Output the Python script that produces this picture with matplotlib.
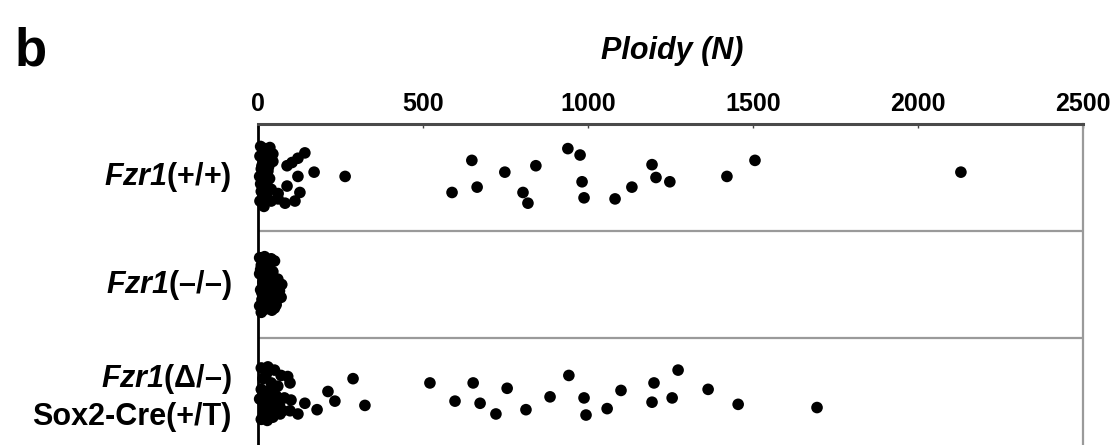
import numpy as np
import matplotlib
matplotlib.use("Agg")
import matplotlib.pyplot as plt

plt.rcParams["font.family"] = ["Liberation Sans", "DejaVu Sans"]
plt.rcParams["mathtext.fontset"] = "custom"
plt.rcParams["mathtext.rm"] = "Liberation Sans:bold"
plt.rcParams["mathtext.bf"] = "Liberation Sans:italic:bold"

# group labels (top to bottom)
groups = [
    r"$\mathbf{Fzr1}$(+/+)",
    r"$\mathbf{Fzr1}$(–/–)",
    r"$\mathbf{Fzr1}$(Δ/–)" + "\nSox2-Cre(+/T)",
]

# ploidy values, with vertical jitter (fraction of row)
wt_vals = [264, 170, 588, 648, 664, 748, 803, 818, 842, 939, 976, 982, 988,
           1082, 1133, 1194, 1206, 1248, 1421, 1506, 2130,
           142, 121, 88, 103, 127, 112, 82, 61, 36, 45, 121, 88, 61,
           8, 20, 6, 25, 12, 30, 5, 18, 28, 10, 22, 6, 15, 30, 35, 40, 45,
           14, 32, 8, 26, 18, 40, 10]
wt_jit = [-0.01, -0.05, 0.14, -0.16, 0.09, -0.05, 0.14, 0.24, -0.11, -0.27, -0.21, 0.04, 0.19,
          0.20, 0.09, -0.12, 0.00, 0.04, -0.01, -0.16, -0.05,
          -0.23, -0.18, -0.11, -0.14, 0.14, 0.22, 0.24, 0.15, -0.28, -0.22, -0.01, 0.08, 0.20,
          -0.29, -0.27, -0.20, -0.15, -0.11, -0.06, -0.01, 0.03, 0.08, 0.13, 0.17, 0.22, 0.25,
          -0.24, 0.01, 0.11, -0.15,
          -0.18, -0.10, 0.06, 0.18, 0.27, 0.22, -0.08]

ko_vals = [5, 20, 40, 50, 10, 30, 45, 5, 25, 15, 50, 35, 60, 72, 65, 8, 28, 45,
           70, 12, 38, 55, 5, 22, 42, 10, 30, 48, 18, 58,
           15, 35, 25, 8, 40, 20, 32, 12, 50, 28]
ko_jit = [-0.25, -0.26, -0.24, -0.22, -0.18, -0.15, -0.12, -0.10, -0.06, -0.02, -0.04, 0.02,
          -0.05, 0.00, 0.06, 0.05, 0.09, 0.10, 0.12, 0.14, 0.17, 0.19, 0.20, 0.23, 0.24, 0.26,
          0.20, 0.04, 0.12, 0.14,
          -0.20, -0.19, -0.10, -0.14, -0.08, 0.01, 0.06, 0.08, 0.22, 0.15]

cko_vals = [288, 324, 212, 233, 179, 142, 121, 97, 97, 67, 521, 597, 652, 673, 755, 721,
            812, 885, 942, 988, 994, 1058, 1100, 1200, 1273, 1194, 1255, 1364, 1455, 1694,
            10, 30, 50, 70, 90, 15, 40, 60, 10, 30, 55, 80, 15, 40, 65, 20, 45, 10, 75, 100,
            25, 5, 35, 20, 50, 28]
cko_jit = [-0.12, 0.13, 0.00, 0.09, 0.17, 0.11, 0.21, 0.18, -0.08, 0.21, -0.08, 0.09, -0.08,
           0.11, -0.03, 0.21, 0.17, 0.05, -0.15, 0.06, 0.22, 0.16, -0.01, -0.08, -0.20, 0.10,
           0.06, -0.02, 0.12, 0.15,
           -0.22, -0.23, -0.20, -0.15, -0.14, -0.12, -0.08, -0.05, -0.02, 0.03, 0.04, 0.06,
           0.10, 0.12, 0.13, 0.20, 0.24, 0.26, 0.18, 0.08,
           -0.16, 0.07, -0.01, 0.16, 0.19, 0.27]

series = [(wt_vals, wt_jit), (ko_vals, ko_jit), (cko_vals, cko_jit)]
xticks = [0, 500, 1000, 1500, 2000, 2500]

fig = plt.figure(figsize=(11.14, 4.45), dpi=100)
ax = fig.add_axes([258 / 1114, 0.0, (1083 - 258) / 1114, 321 / 445])

for i, (vals, jit) in enumerate(series):
    ax.scatter(vals, i + np.array(jit), s=70, color="black", edgecolors="none",
               zorder=3, clip_on=False)

for y in [0.5, 1.5]:
    ax.axhline(y, color="#9a9a9a", lw=1.6, zorder=1)

ax.set_xlim(0, 2500)
ax.set_ylim(2.5, -0.5)
ax.xaxis.tick_top()
ax.set_xticks(xticks)
ax.set_xticklabels([str(t) for t in xticks], weight="bold", size=18)
ax.tick_params(axis="x", direction="in", length=3, width=1, pad=6, color="#444444")
ax.set_yticks([])

ax.spines["top"].set_color("#4a4a4a")
ax.spines["top"].set_linewidth(2.2)
ax.spines["left"].set_color("black")
ax.spines["left"].set_linewidth(2)
ax.spines["right"].set_color("#9a9a9a")
ax.spines["right"].set_linewidth(1.6)
ax.spines["bottom"].set_visible(False)

for i, lab in enumerate(groups):
    ax.text(-0.032, i + (0.05 if i == 2 else 0), lab, transform=ax.get_yaxis_transform(),
            ha="right", va="center", size=22, weight="bold", multialignment="right",
            linespacing=1.25)

fig.text(672 / 1114, 1 - 59 / 445, "Ploidy (N)", ha="center", va="baseline",
         size=22, weight="bold", style="italic")
fig.text(15 / 1114, 1 - 65 / 445, "b", ha="left", va="baseline", size=38, weight="bold")

fig.savefig("out.png", dpi=100)
